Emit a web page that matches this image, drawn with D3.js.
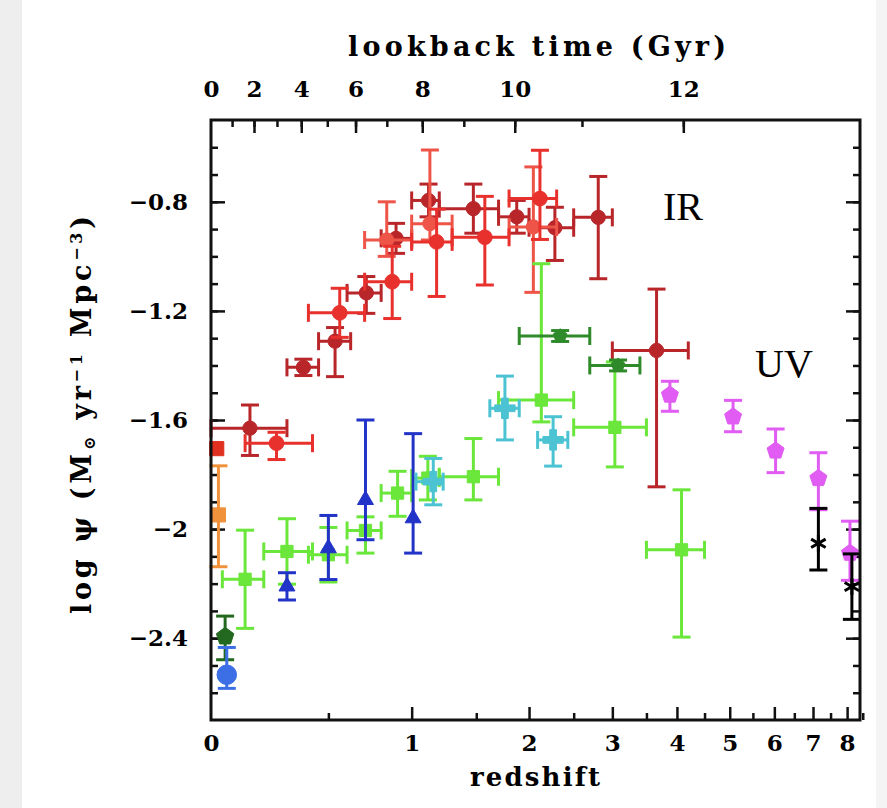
<!DOCTYPE html>
<html>
<head>
<meta charset="utf-8">
<script src="https://cdn.jsdelivr.net/npm/d3@7"></script>
<style>
  body { margin: 0; background: #fff; }
  text { fill: #000; }
</style>
</head>
<body>
<div id="vis"></div>
<script>
var width = 887;
var height = 808;
var plot = {left: 211, right: 860, top: 120, bottom: 720};

// each row: z, zmin, zmax, log psi, err up, err down
var gruppioni = [
  [0.144, 0.00, 0.30, -1.630, 0.085, 0.100],
  [0.376, 0.30, 0.45, -1.407, 0.030, 0.030],
  [0.535, 0.45, 0.62, -1.311, 0.050, 0.130],
  [0.710, 0.60, 0.80, -1.134, 0.060, 0.075],
  [0.895, 0.80, 1.00, -0.934, 0.055, 0.055],
  [1.120, 1.00, 1.20, -0.795, 0.060, 0.060],
  [1.475, 1.20, 1.70, -0.825, 0.090, 0.090],
  [1.875, 1.70, 2.00, -0.855, 0.060, 0.060],
  [2.280, 2.00, 2.50, -0.895, 0.075, 0.120],
  [2.810, 2.50, 3.00, -0.857, 0.150, 0.225],
  [3.660, 3.00, 4.20, -1.345, 0.225, 0.500]
];
var magnelli13 = [
  [0.254, 0.125, 0.42, -1.685, 0.040, 0.060],
  [0.560, 0.40, 0.70, -1.207, 0.090, 0.090],
  [0.870, 0.70, 1.00, -1.093, 0.130, 0.135],
  [1.180, 1.00, 1.30, -0.947, 0.120, 0.200],
  [1.575, 1.30, 1.80, -0.930, 0.150, 0.175],
  [2.115, 1.80, 2.30, -0.788, 0.177, 0.150]
];
var magnelli11 = [
  [0.835, 0.70, 1.00, -0.940, 0.140, 0.060],
  [1.130, 1.00, 1.30, -0.880, 0.270, 0.060],
  [2.045, 1.80, 2.30, -0.892, 0.220, 0.240]
];
var sanders = [
  [0.020, 0.020, 0.020, -1.705, 0.0, 0.0]
];
var takeuchi = [
  [0.026, 0.026, 0.026, -1.948, 0.180, 0.190]
];
var cucciati = [
  [0.125, 0.04, 0.20, -2.184, 0.180, 0.180],
  [0.300, 0.20, 0.42, -2.082, 0.120, 0.120],
  [0.500, 0.40, 0.60, -2.094, 0.100, 0.100],
  [0.705, 0.60, 0.80, -2.005, 0.050, 0.083],
  [0.905, 0.80, 1.00, -1.868, 0.080, 0.085],
  [1.115, 1.00, 1.20, -1.813, 0.080, 0.080],
  [1.475, 1.20, 1.70, -1.808, 0.140, 0.085],
  [2.130, 1.70, 2.50, -1.527, 0.500, 0.080],
  [3.035, 2.50, 3.50, -1.627, 0.240, 0.145],
  [4.080, 3.50, 4.50, -2.076, 0.220, 0.320]
];
var schiminovich = [
  [0.300, 0.300, 0.300, -2.210, 0.050, 0.050],
  [0.500, 0.500, 0.500, -2.070, 0.120, 0.115],
  [0.705, 0.705, 0.705, -1.893, 0.293, 0.146],
  [1.010, 1.010, 1.010, -1.960, 0.310, 0.128]
];
var dahlen = [
  [1.155, 1.03, 1.23, -1.826, 0.085, 0.085],
  [1.760, 1.62, 1.90, -1.557, 0.118, 0.116],
  [2.260, 2.09, 2.43, -1.673, 0.085, 0.096]
];
var reddy = [
  [2.340, 1.90, 2.70, -1.292, 0.020, 0.020],
  [3.080, 2.70, 3.40, -1.400, 0.020, 0.020]
];
var bouwens = [
  [3.88, 3.88, 3.88, -1.508, 0.050, 0.060],
  [5.07, 5.07, 5.07, -1.588, 0.060, 0.055],
  [6.03, 6.03, 6.03, -1.713, 0.080, 0.080],
  [7.15, 7.15, 7.15, -1.814, 0.094, 0.115],
  [8.09, 8.09, 8.09, -2.088, 0.117, 0.100]
];
var schenker = [
  [7.15, 7.15, 7.15, -2.052, 0.128, 0.098],
  [8.15, 8.15, 8.15, -2.211, 0.120, 0.120]
];
var robotham = [
  [0.050, 0.050, 0.050, -2.394, 0.075, 0.085]
];
var wyder = [
  [0.056, 0.056, 0.056, -2.534, 0.100, 0.050]
];

// axis ticks
var zMajor = [1, 2, 3, 4, 5, 6, 7, 8];
var zMinor = [0.5, 1.5, 2.5, 3.5, 4.5, 5.5, 6.5, 7.5, 8.5];
var zLabels = [0, 1, 2, 3, 4, 5, 6, 7, 8];
var lookbackTicks = [1, 2, 3, 4, 5, 6, 7, 8, 9, 10, 11, 12];
var lookbackLabels = [0, 2, 4, 6, 8, 10, 12];
var yMajor = [-0.8, -1.2, -1.6, -2, -2.4];
var yMinor = d3.range(-0.6, -2.65, -0.1).map(d => +d.toFixed(1));

// pentagon & asterisk symbols
var pentagon = {
  draw: function(ctx, size) {
    var r = Math.sqrt(size / 2.378);
    for (var i = 0; i < 5; i++) {
      var a = -Math.PI / 2 + i * 2 * Math.PI / 5;
      if (i == 0) ctx.moveTo(r * Math.cos(a), r * Math.sin(a));
      else ctx.lineTo(r * Math.cos(a), r * Math.sin(a));
    }
    ctx.closePath();
  }
};
var asterisk = {
  draw: function(ctx, size) {
    var r = Math.sqrt(size) / 2;
    for (var i = 0; i < 3; i++) {
      var a = Math.PI / 2 + i * Math.PI / 3;
      ctx.moveTo(r * Math.cos(a), r * Math.sin(a));
      ctx.lineTo(-r * Math.cos(a), -r * Math.sin(a));
    }
  }
};

var series = [
  {rows: gruppioni, color: "#b8262a", shape: d3.symbolCircle, size: 160},
  {rows: magnelli11, color: "#ee5548", shape: d3.symbolCircle, size: 160},
  {rows: magnelli13, color: "#e8302c", shape: d3.symbolCircle, size: 170},
  {rows: sanders, color: "#e0301f", shape: d3.symbolSquare, size: 200},
  {rows: takeuchi, color: "#f0913c", shape: d3.symbolSquare, size: 200},
  {rows: cucciati, color: "#6be63a", shape: d3.symbolSquare, size: 150},
  {rows: schiminovich, color: "#2233c8", shape: d3.symbolTriangle, size: 110},
  {rows: dahlen, color: "#4cc3d2", shape: d3.symbolCross, size: 230},
  {rows: reddy, color: "#2f8a2a", shape: pentagon, size: 120},
  {rows: bouwens, color: "#e05cf2", shape: pentagon, size: 190},
  {rows: schenker, color: "#000", shape: asterisk, size: 280, stroke: true},
  {rows: robotham, color: "#22681e", shape: pentagon, size: 200},
  {rows: wyder, color: "#3c6ee6", shape: d3.symbolCircle, size: 300}
];

var svg = d3.select("#vis")
  .append("svg")
  .attr("width", width)
  .attr("height", height)
  .style("background-color", "white");

// grey page strips at the edges
svg.append("rect").attr("x", 0).attr("y", 0).attr("width", 22).attr("height", height).attr("fill", "#eeeeee");
svg.append("rect").attr("x", 876).attr("y", 0).attr("width", 11).attr("height", height).attr("fill", "#f4f4f4");

// x is log(1+z)
var xScale = d3.scaleLog()
  .domain([1, 9.41])
  .range([plot.left, plot.right]);
var x = z => xScale(1 + z);

var yScale = d3.scaleLinear()
  .domain([-2.7, -0.5])
  .range([plot.bottom, plot.top]);

// lookback time (H0=70, Om=0.3, OL=0.7) -> redshift
function lookback(z) {
  var n = 200, h = z / n, s = 0;
  var f = t => 1 / ((1 + t) * Math.sqrt(0.3 * Math.pow(1 + t, 3) + 0.7));
  for (var i = 0; i <= n; i++) {
    var w = (i == 0 || i == n) ? 1 : (i % 2 ? 4 : 2);
    s += w * f(i * h);
  }
  return 977.8 / 70 * s * h / 3;
}
function zOfLookback(t) {
  var lo = 0, hi = 20;
  for (var k = 0; k < 60; k++) {
    var mid = (lo + hi) / 2;
    if (lookback(mid) < t) lo = mid; else hi = mid;
  }
  return (lo + hi) / 2;
}

var axisFont = "'DejaVu Serif', serif";

// bottom axis
var bottomAxis = svg.append("g").attr("transform", `translate(0, ${plot.bottom})`);
bottomAxis.call(d3.axisBottom(xScale).tickValues(zMajor.map(d => 1 + d)).tickFormat("").tickSizeInner(-13).tickSizeOuter(0));
bottomAxis.append("g").call(d3.axisBottom(xScale).tickValues(zMinor.map(d => 1 + d)).tickFormat("").tickSizeInner(-7).tickSizeOuter(0));
bottomAxis.append("g").call(d3.axisBottom(xScale).tickValues(zLabels.map(d => 1 + d)).tickFormat(d => Math.round(d - 1)).tickSize(0).tickPadding(15));

// top axis
var topAxis = svg.append("g").attr("transform", `translate(0, ${plot.top})`);
topAxis.call(d3.axisTop(xScale).tickValues(lookbackTicks.map(t => 1 + zOfLookback(t)))
  .tickFormat("").tickSizeInner(-7).tickSizeOuter(0));
topAxis.append("g").call(d3.axisTop(xScale).tickValues(lookbackLabels.filter(t => t > 0).map(t => 1 + zOfLookback(t)))
  .tickFormat("").tickSizeInner(-13).tickSizeOuter(0));
topAxis.append("g").call(d3.axisTop(xScale).tickValues(lookbackLabels.map(t => 1 + zOfLookback(t)))
  .tickFormat((d, i) => lookbackLabels[i]).tickSize(0).tickPadding(23));

// left axis
var leftAxis = svg.append("g").attr("transform", `translate(${plot.left}, 0)`);
leftAxis.call(d3.axisLeft(yScale).tickValues(yMinor).tickFormat("").tickSizeInner(-7).tickSizeOuter(0));
leftAxis.append("g").call(d3.axisLeft(yScale).tickValues(yMajor).tickFormat(d3.format("")).tickSizeInner(-14).tickSizeOuter(0).tickPadding(23));

// right axis
var rightAxis = svg.append("g").attr("transform", `translate(${plot.right}, 0)`);
rightAxis.call(d3.axisRight(yScale).tickValues(yMinor).tickFormat("").tickSizeInner(-7).tickSizeOuter(0));
rightAxis.append("g").call(d3.axisRight(yScale).tickValues(yMajor).tickFormat("").tickSizeInner(-14).tickSizeOuter(0));

svg.selectAll(".domain").remove();
svg.selectAll(".tick line").attr("stroke", "#111").attr("stroke-width", 2.5);
svg.selectAll(".tick text")
  .style("font-family", axisFont)
  .style("font-weight", "bold")
  .style("font-size", "23px")
  .attr("fill", "#000");

// error bars + markers
var cap = 9;
var dataGroup = svg.append("g");
series.forEach(s => {
  var g = dataGroup.append("g")
    .attr("stroke", s.color)
    .attr("stroke-width", 3)
    .attr("fill", "none");
  s.rows.forEach(r => {
    var px = x(r[0]), py = yScale(r[3]);
    if (r[4] > 0 || r[5] > 0) {
      var y1 = yScale(r[3] + r[4]), y2 = yScale(r[3] - r[5]);
      g.append("line").attr("x1", px).attr("x2", px).attr("y1", y1).attr("y2", y2);
      g.append("line").attr("x1", px - cap).attr("x2", px + cap).attr("y1", y1).attr("y2", y1);
      g.append("line").attr("x1", px - cap).attr("x2", px + cap).attr("y1", y2).attr("y2", y2);
    }
    if (r[2] > r[1]) {
      var x1 = x(r[1]), x2 = x(r[2]);
      g.append("line").attr("x1", x1).attr("x2", x2).attr("y1", py).attr("y2", py);
      g.append("line").attr("x1", x1).attr("x2", x1).attr("y1", py - cap).attr("y2", py + cap);
      g.append("line").attr("x1", x2).attr("x2", x2).attr("y1", py - cap).attr("y2", py + cap);
    }
  });
  g.selectAll("path")
    .data(s.rows)
    .join("path")
    .attr("transform", d => `translate(${x(d[0])}, ${yScale(d[3])})`)
    .attr("d", d3.symbol().type(s.shape).size(s.size))
    .attr("fill", s.stroke ? "none" : s.color)
    .attr("stroke", s.color)
    .attr("stroke-width", s.stroke ? 3 : 1);
});

// frame
svg.append("rect")
  .attr("x", plot.left).attr("y", plot.top)
  .attr("width", plot.right - plot.left).attr("height", plot.bottom - plot.top)
  .attr("fill", "none").attr("stroke", "#111").attr("stroke-width", 3);

// labels
svg.append("text")
  .attr("x", 537).attr("y", 56)
  .attr("text-anchor", "middle")
  .attr("textLength", 378).attr("lengthAdjust", "spacing")
  .style("font-family", axisFont).style("font-weight", "bold").style("font-size", "27px")
  .text("lookback time (Gyr)");

svg.append("text")
  .attr("x", 535).attr("y", 786)
  .attr("text-anchor", "middle")
  .attr("textLength", 130).attr("lengthAdjust", "spacing")
  .style("font-family", axisFont).style("font-weight", "bold").style("font-size", "26px")
  .text("redshift");

var ylab = svg.append("text")
  .attr("transform", "translate(91, 415) rotate(-90)")
  .attr("text-anchor", "middle")
  .attr("textLength", 398).attr("lengthAdjust", "spacing")
  .style("font-family", axisFont).style("font-weight", "bold").style("font-size", "27px");
ylab.append("tspan").text("log ψ (M");
ylab.append("tspan").attr("baseline-shift", "-25%").style("font-size", "16px").text("⊙");
ylab.append("tspan").text(" yr");
ylab.append("tspan").attr("baseline-shift", "super").style("font-size", "16px").text("−1");
ylab.append("tspan").text(" Mpc");
ylab.append("tspan").attr("baseline-shift", "super").style("font-size", "16px").text("−3");
ylab.append("tspan").text(")");

svg.append("text")
  .attr("x", 683).attr("y", 220)
  .attr("text-anchor", "middle")
  .style("font-family", "'Liberation Serif', serif").style("font-size", "40px")
  .text("IR");

svg.append("text")
  .attr("x", 784).attr("y", 377)
  .attr("text-anchor", "middle")
  .style("font-family", "'Liberation Serif', serif").style("font-size", "40px")
  .text("UV");
</script>
</body>
</html>
